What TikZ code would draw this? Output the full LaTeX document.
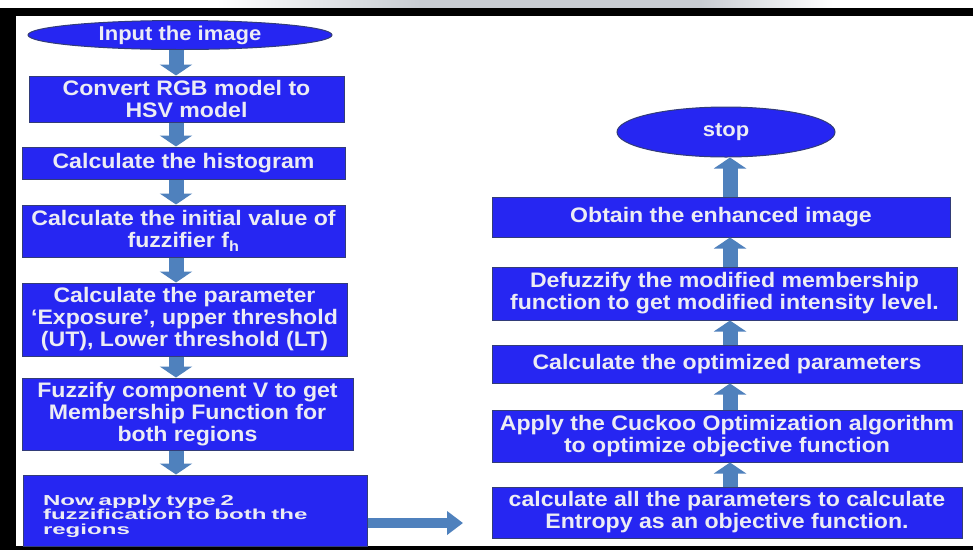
\documentclass[tikz,border=0pt]{standalone}
\usepackage{fontspec}
\setmainfont{Liberation Sans}[FakeStretch=1.1]
\newfontfamily\widefont{Liberation Sans}[FakeStretch=1.66]
\usetikzlibrary{shapes.geometric,arrows.meta}
\definecolor{boxblue}{RGB}{38,38,242}
\definecolor{boxedge}{RGB}{50,60,120}
\definecolor{arrblue}{RGB}{79,129,189}
\definecolor{txt}{RGB}{236,236,244}
\definecolor{stripgray}{RGB}{200,204,210}
\tikzset{
  box/.style={rectangle, fill=boxblue, draw=boxedge, line width=1pt, text=txt,
    font=\fontsize{21}{22}\selectfont\bfseries, align=center, inner sep=0pt},
  oval/.style={ellipse, fill=boxblue, draw=boxedge, line width=1pt, text=txt,
    font=\fontsize{20}{22}\selectfont\bfseries, inner sep=0pt},
  flowdown/.style={arrblue, line width=15pt, -{Triangle[length=11pt,width=32pt]}},
  flowside/.style={arrblue, line width=10pt, -{Triangle[length=16pt,width=23pt]}}
}
\begin{document}
\begin{tikzpicture}[x=1pt,y=-1pt]
\useasboundingbox (0,0) rectangle (973,550);
\fill[white] (0,0) rectangle (973,550);
% top strip and frame
\shade[left color=white,right color=stripgray] (217,0) rectangle (420,8);
\fill[stripgray] (420,0) rectangle (700,8);
\shade[left color=stripgray,right color=white] (700,0) rectangle (833,8);
\fill[black] (0,8) rectangle (973,16);
\fill[black] (0,8) rectangle (16,550);
\fill[black] (0,546) rectangle (973,550);

% left column
\node[oval, minimum width=304pt, minimum height=29pt] (in) at (180,35) {Input the image};
\node[box, minimum width=315pt, minimum height=46pt] (conv) at (186.5,99) {Convert RGB model to\\HSV model};
\node[box, minimum width=323pt, minimum height=32pt] (hist) at (183.5,163) {Calculate the histogram};
\node[box, minimum width=323pt, minimum height=52pt] (init) at (183.5,231) {Calculate the initial value of\\fuzzifier f\textsubscript{h}};
\node[box, minimum width=325pt, minimum height=73pt] (expo) at (184.5,319.5) {Calculate the parameter\\`Exposure', upper threshold\\(UT), Lower threshold (LT)};
\node[box, minimum width=331pt, minimum height=72pt] (fuzz) at (187.5,414) {Fuzzify component V to get\\Membership Function for\\both regions};
\node[box, minimum width=344pt, minimum height=71pt, align=left, text width=304pt,
      font=\fontsize{14.5}{14.5}\selectfont\widefont\bfseries] (nowap) at (195,510.5)
      {\rule{0pt}{22pt}Now apply type 2\\fuzzification to both the\\regions};

% right column
\node[oval, minimum width=218pt, minimum height=50pt] (stop) at (726,132) {stop};
\node[box, minimum width=458pt, minimum height=40pt] (obt) at (721,217) {Obtain the enhanced image};
\node[box, minimum width=465pt, minimum height=53pt] (defz) at (724.5,293.5) {Defuzzify the modified membership\\function to get modified intensity level.};
\node[box, minimum width=470pt, minimum height=38pt] (copt) at (727,364) {Calculate the optimized parameters};
\node[box, minimum width=470pt, minimum height=52pt] (cuck) at (727,436) {Apply the Cuckoo Optimization algorithm\\to optimize objective function};
\node[box, minimum width=470pt, minimum height=51pt] (call) at (727,512.5) {calculate all the parameters to calculate\\Entropy as an objective function.};

% connector axes
\coordinate (lx) at (176,0);
\coordinate (rx) at (730,0);
\coordinate (hend) at (463,523);

\draw[flowdown] (in.south -| lx) -- (conv.north -| lx);
\draw[flowdown] (conv.south -| lx) -- (hist.north -| lx);
\draw[flowdown] (hist.south -| lx) -- (init.north -| lx);
\draw[flowdown] (init.south -| lx) -- (expo.north -| lx);
\draw[flowdown] (expo.south -| lx) -- (fuzz.north -| lx);
\draw[flowdown] (fuzz.south -| lx) -- (nowap.north -| lx);

\draw[flowside] (nowap.east |- hend) -- (hend);

\draw[flowdown] (call.north -| rx) -- (cuck.south -| rx);
\draw[flowdown] (cuck.north -| rx) -- (copt.south -| rx);
\draw[flowdown] (copt.north -| rx) -- (defz.south -| rx);
\draw[flowdown] (defz.north -| rx) -- (obt.south -| rx);
\draw[flowdown] (obt.north -| rx) -- (stop.south -| rx);
\end{tikzpicture}
\end{document}
